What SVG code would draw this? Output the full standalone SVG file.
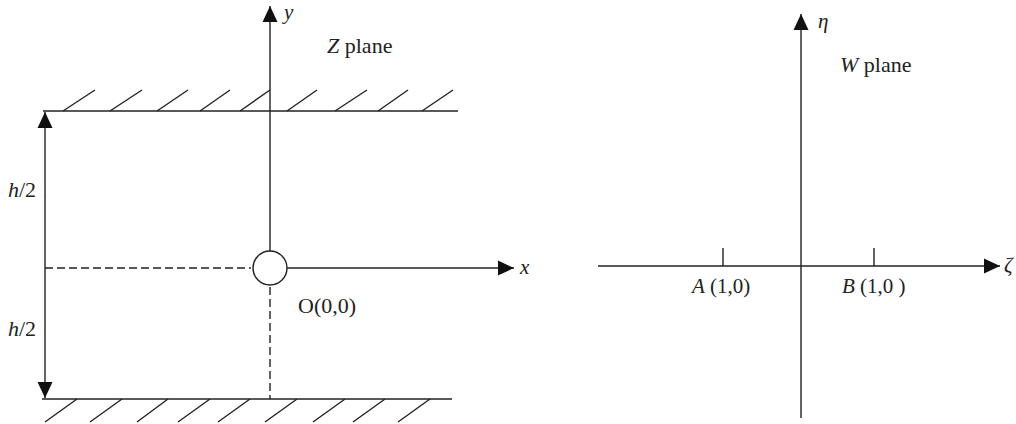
<svg xmlns="http://www.w3.org/2000/svg" width="1016" height="424" viewBox="0 0 1016 424">
<style>
.ln{stroke:#222;stroke-width:1.4;fill:none}
.dash{stroke:#222;stroke-width:1.4;fill:none;stroke-dasharray:8 4}
.t{font-family:"Liberation Serif","Times New Roman",serif;font-size:21px;fill:#222}
.big{font-size:22px}
.i{font-style:italic}
</style>
<defs>
<marker id="ah" markerUnits="userSpaceOnUse" markerWidth="16" markerHeight="16" viewBox="0 0 16 16" refX="16" refY="8" orient="auto-start-reverse">
<path d="M0,0.5 L16,8 L0,15.5 Z" fill="#111"/>
</marker>
</defs>
<rect width="1016" height="424" fill="#fff"/>
<g id="z-plane">
<g id="top-wall">
<line class="ln" x1="43" y1="111" x2="458" y2="111"/>
<path class="ln" d="M63,111L95,90M110,111L142,90M157,111L188,90M200,111L230,90M240,111L270,90M287,111L317,90M335,111L367,90M378,111L408,90M422,111L453,90"/>
</g>
<g id="bottom-wall">
<line class="ln" x1="42" y1="399" x2="452" y2="399"/>
<path class="ln" d="M77,399L45,422M122,399L90,422M168,399L137,422M210,399L178,422M250,399L218,422M297,399L265,422M345,399L313,422M385,399L353,422M430,399L398,422"/>
</g>
<g id="origin">
<circle cx="270" cy="268" r="17" fill="#fff" stroke="#222" stroke-width="1.4"/>
</g>
<g id="connectors-z">
<line class="ln" x1="270" y1="251" x2="270" y2="6" marker-end="url(#ah)"/>
<line class="ln" x1="287" y1="268" x2="514" y2="268" marker-end="url(#ah)"/>
<line class="ln" x1="45" y1="112" x2="45" y2="398" marker-start="url(#ah)" marker-end="url(#ah)"/>
<line class="dash" x1="45" y1="268" x2="251" y2="268"/>
<line class="dash" x1="270" y1="287" x2="270" y2="399"/>
</g>
<text class="t i" x="284" y="19">y</text>
<text class="t big" x="327" y="53"><tspan class="i">Z</tspan> plane</text>
<text class="t big" x="8" y="197"><tspan class="i">h</tspan>/2</text>
<text class="t big" x="8" y="336"><tspan class="i">h</tspan>/2</text>
<text class="t big" x="298" y="313">O(0,0)</text>
<text class="t i" x="520" y="274">x</text>
</g>
<g id="w-plane">
<g id="connectors-w">
<line class="ln" x1="801" y1="418" x2="801" y2="14" marker-end="url(#ah)"/>
<line class="ln" x1="598" y1="266" x2="1000" y2="266" marker-end="url(#ah)"/>
<line class="ln" x1="723" y1="248" x2="723" y2="266"/>
<line class="ln" x1="874" y1="248" x2="874" y2="266"/>
</g>
<text class="t i" x="818" y="28">η</text>
<text class="t big" x="840" y="72"><tspan class="i">W</tspan> plane</text>
<text class="t" x="692" y="293"><tspan class="i">A</tspan> (1,0)</text>
<text class="t" x="842" y="293"><tspan class="i">B</tspan> (1,0 )</text>
<text class="t i" x="1004" y="272">ζ</text>
</g>
</svg>
